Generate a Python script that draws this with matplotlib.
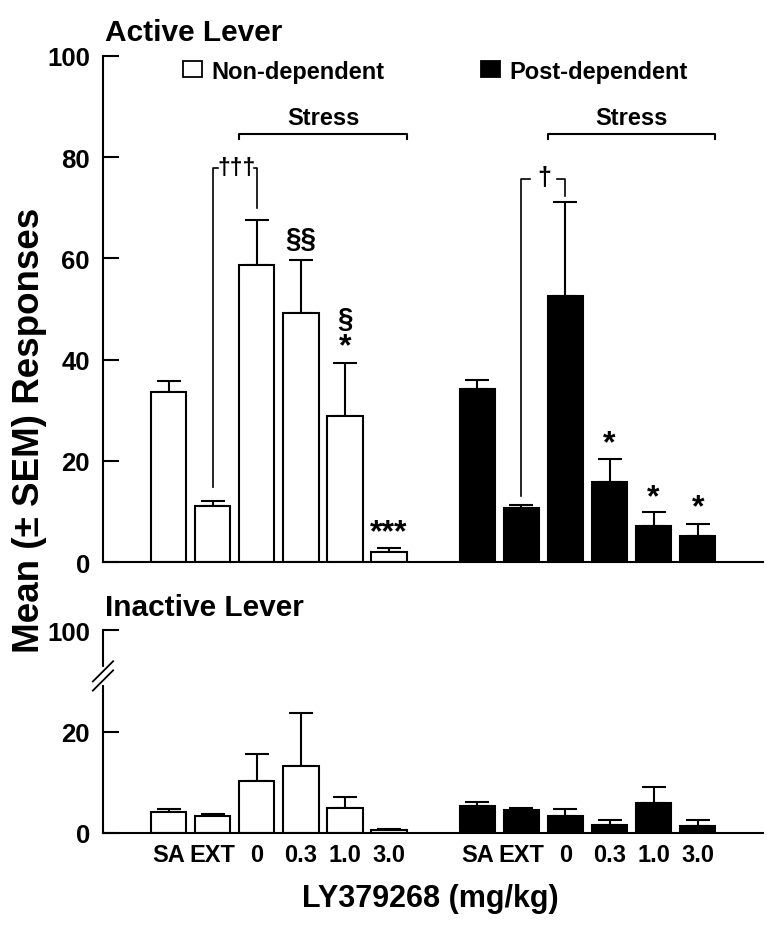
import numpy as np
import matplotlib
matplotlib.use("Agg")
import matplotlib.pyplot as plt
from matplotlib.patches import Patch

plt.rcParams['font.family'] = ['Liberation Sans', 'DejaVu Sans']
plt.rcParams['font.weight'] = 'bold'

groups = ['SA', 'EXT', '0', '0.3', '1.0', '3.0']

nd_active = [33.6, 11.1, 58.6, 49.2, 28.8, 1.9]
nd_active_sem = [2.2, 0.9, 8.9, 10.5, 10.6, 0.8]
pd_active = [34.1, 10.6, 52.6, 15.8, 7.1, 5.2]
pd_active_sem = [1.9, 0.7, 18.6, 4.6, 2.7, 2.3]

nd_inactive = [4.2, 3.4, 10.2, 13.3, 4.9, 0.5]
nd_inactive_sem = [0.6, 0.4, 5.3, 10.4, 2.3, 0.2]
pd_inactive = [5.4, 4.5, 3.3, 1.5, 6.0, 1.4]
pd_inactive_sem = [0.7, 0.5, 1.5, 1.1, 3.1, 1.2]

x_nd = np.arange(6)
x_pd = np.arange(6) + 7
xlim = (-1.49, 13.48)

fig = plt.figure(figsize=(7.76, 9.28), dpi=100)
ax1 = fig.add_axes([0.1327, 0.3933, 0.8505, 0.5453])
ax2 = fig.add_axes([0.1327, 0.1013, 0.8505, 0.2184])


def draw_bars(ax, nd, nd_sem, pd, pd_sem):
    ax.bar(x_nd, nd, width=0.8, color='white', edgecolor='black', linewidth=1.5, zorder=2)
    ax.bar(x_pd, pd, width=0.8, color='black', edgecolor='black', linewidth=1.5, zorder=2)
    ax.errorbar(x_nd, nd, yerr=[np.zeros(6), nd_sem], fmt='none', ecolor='black',
                elinewidth=1.5, capsize=8.3, capthick=1.5, zorder=1)
    ax.errorbar(x_pd, pd, yerr=[np.zeros(6), pd_sem], fmt='none', ecolor='black',
                elinewidth=1.5, capsize=8.3, capthick=1.5, zorder=1)
    ax.set_xlim(*xlim)
    for s in ['top', 'right']:
        ax.spines[s].set_visible(False)
    for s in ['left', 'bottom']:
        ax.spines[s].set_linewidth(1.5)
    ax.tick_params(axis='y', direction='in', length=11.5, width=1.5, pad=9.4, labelsize=18.5)
    ax.tick_params(axis='x', length=0, pad=7, labelsize=17)


# top panel: active lever
draw_bars(ax1, nd_active, nd_active_sem, pd_active, pd_active_sem)
ax1.set_ylim(0, 100)
ax1.set_yticks([0, 20, 40, 60, 80, 100])
ax1.set_xticks([])

# legend
h1 = Patch(facecolor='white', edgecolor='black', linewidth=1.3)
h2 = Patch(facecolor='black', edgecolor='black', linewidth=1.3)
kw = dict(frameon=False, fontsize=17, handlelength=0.8, handleheight=0.68,
          handletextpad=0.42, borderpad=0, borderaxespad=0, loc='center left')
leg1 = ax1.legend([h1], ['Non-dependent'], bbox_to_anchor=(0.1212, 0.970), **kw)
ax1.add_artist(leg1)
ax1.legend([h2], ['Post-dependent'], bbox_to_anchor=(0.5723, 0.970), **kw)

# stress brackets
for x0, x1 in [(1.6, 5.4), (8.6, 12.4)]:
    ax1.plot([x0, x0, x1, x1], [83.6, 84.6, 84.6, 83.6], color='black', lw=1.5, clip_on=False)
    ax1.text((x0 + x1) / 2, 87.9, 'Stress', ha='center', va='center', fontsize=17)

# dagger brackets
ax1.plot([1, 1, 1.12], [14.8, 77.8, 77.8], color='black', lw=1.2)
ax1.plot([1.94, 2, 2], [77.8, 77.8, 69.9], color='black', lw=1.2)
ax1.text(1.53, 78.0, '\u2020\u2020\u2020', ha='center', va='center', fontsize=16.5)
ax1.plot([8, 8, 8.19], [13.1, 75.7, 75.7], color='black', lw=1.2)
ax1.plot([8.8, 9, 9], [75.7, 75.7, 72.4], color='black', lw=1.2)
ax1.text(8.515, 76.1, '\u2020', ha='center', va='center', fontsize=18)

# section signs and asterisks
ax1.text(3, 63.8, '\u00a7\u00a7', ha='center', va='center', fontsize=20)
ax1.text(4, 48.0, '\u00a7', ha='center', va='center', fontsize=20)
stars = [(4, 42.6, '*'), (5, 5.8, '***'), (10, 23.4, '*'), (11, 12.8, '*'), (12, 10.9, '*')]
for sx, sy, s in stars:
    ax1.text(sx, sy, s, ha='center', va='center', fontsize=23)

# bottom panel: inactive lever (broken axis, 100 shown at top)
draw_bars(ax2, nd_inactive, nd_inactive_sem, pd_inactive, pd_inactive_sem)
ax2.set_ylim(0, 40)
ax2.set_yticks([0, 20, 40])
ax2.set_yticklabels(['0', '20', '100'])
ax2.set_xticks(list(x_nd) + list(x_pd))
ax2.set_xticklabels(groups + groups)

# break marks on the left spine
bx = xlim[0]
ax2.plot([bx, bx], [29.6, 32.4], color='white', lw=3, clip_on=False, zorder=5)
for off in [-0.9, 0.9]:
    ax2.plot([bx - 0.23, bx + 0.23], [31 + off - 2.0, 31 + off + 2.0], color='black',
             lw=1.3, clip_on=False, zorder=6)

fig.text(105 / 776, 1 - 40.7 / 928, 'Active Lever', fontsize=21.5, ha='left', va='baseline')
fig.text(105 / 776, 1 - 616 / 928, 'Inactive Lever', fontsize=21.5, ha='left', va='baseline')
fig.text(30 / 776, 1 - 430 / 928, 'Mean (\u00b1 SEM) Responses', fontsize=26.5, rotation=90,
         ha='center', va='center')
fig.text(430.5 / 776, 1 - 907 / 928, 'LY379268 (mg/kg)', fontsize=22, ha='center', va='baseline')

fig.savefig('out.png', dpi=100)
